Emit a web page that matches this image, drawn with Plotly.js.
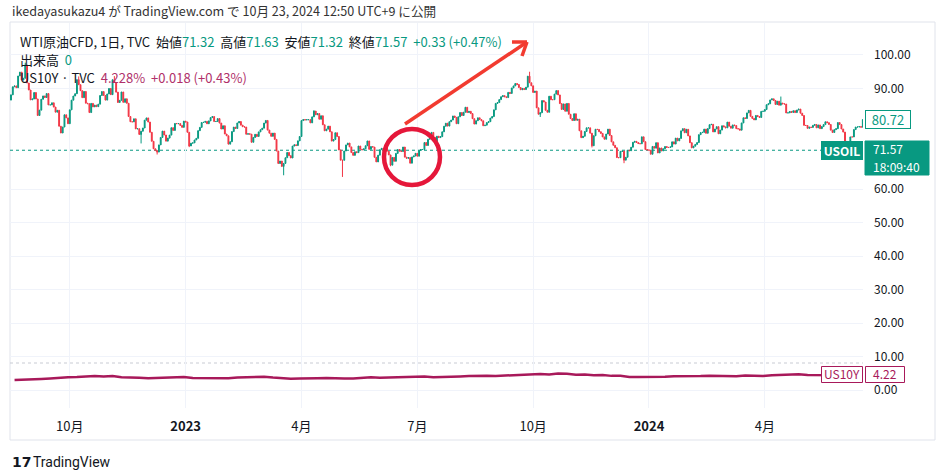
<!DOCTYPE html>
<html><head><meta charset="utf-8">
<script src="https://cdn.plot.ly/plotly-3.0.1.min.js"></script>
<style>html,body{margin:0;padding:0;background:#fff}#chart{width:944px;height:470px}</style>
</head><body><div id="chart"></div>
<script>
// ---- data (daily closes of TVC:USOIL, weekdays from startDate) ----
const startDate = '2022-08-17';
const firstOpen = 86.53;
const closes = [
// 2022 Aug
88.11,90.50,90.77,90.23,93.74,94.89,92.52,93.06,97.01,91.64,89.55,
// Sep
86.61,86.87,88.80,86.88,81.94,83.54,86.79,87.78,87.31,88.48,85.10,85.11,85.73,84.45,82.94,83.49,78.74,76.71,78.50,82.15,81.23,79.49,
// Oct
83.63,86.52,87.76,88.45,92.64,91.13,89.35,87.27,89.11,85.61,85.46,82.82,85.55,84.51,85.05,84.58,85.32,87.91,89.08,87.90,86.53,
// Nov
88.37,90.00,88.17,92.61,91.79,88.91,85.83,86.47,88.96,85.87,86.92,85.59,81.64,80.08,80.04,80.95,77.94,78.00,76.28,77.24,78.20,80.55,
// Dec
81.22,79.98,76.93,74.25,72.01,71.46,71.02,73.17,75.39,77.28,76.11,74.29,75.19,76.09,78.29,77.49,79.56,79.50,79.53,78.96,78.40,80.26,
// 2023 Jan
80.00,76.93,72.84,73.67,73.77,74.63,75.12,77.41,78.39,79.86,79.90,80.18,79.48,80.33,81.31,81.62,80.13,80.15,81.01,79.68,77.90,78.87,
// Feb
76.41,75.88,73.39,74.11,77.14,78.47,78.06,79.72,80.14,79.06,78.59,78.49,76.34,76.50,76.36,73.95,75.39,76.32,75.68,77.05,
// Mar
77.69,78.16,79.68,80.46,77.58,76.66,75.72,76.68,74.80,71.33,67.61,68.35,66.74,67.64,69.33,70.90,69.96,69.26,72.81,73.20,72.97,74.37,75.67,
// Apr
80.42,80.71,80.61,80.70,80.70,79.74,81.53,83.26,82.16,82.52,80.83,81.86,79.16,77.37,77.87,78.76,77.07,74.30,74.76,76.78,
// May
75.66,71.66,68.60,68.56,71.34,73.16,73.71,72.56,70.87,70.04,71.11,70.86,72.83,71.86,71.69,71.99,72.91,74.34,71.83,72.67,72.50,69.46,68.09,
// Jun
70.10,71.74,72.15,71.74,72.53,71.29,70.17,67.12,69.42,68.27,70.62,71.78,71.30,71.19,72.53,69.51,69.16,69.37,67.70,69.56,69.86,70.64,
// Jul
69.79,71.50,71.79,71.80,73.86,72.99,74.83,75.75,76.89,75.42,74.15,75.75,75.35,75.63,77.07,78.74,79.63,78.78,80.09,80.58,81.80,
// Aug
81.37,79.49,81.55,82.82,81.94,82.92,84.40,82.82,83.19,82.51,80.99,79.38,80.39,81.25,80.72,80.35,78.89,79.05,79.83,80.10,81.16,81.63,83.63,
// Sep
85.55,85.80,86.69,87.54,87.87,87.51,87.29,88.84,88.52,90.16,90.77,91.48,91.20,90.28,89.63,90.03,89.68,90.39,93.68,91.71,90.79,
// Oct
88.82,89.23,84.22,82.31,82.79,86.38,85.97,83.49,82.91,87.69,86.66,86.66,88.32,89.37,88.08,85.49,83.74,85.39,83.21,85.54,82.31,81.02,
// Nov
80.44,82.46,80.51,80.82,77.37,75.33,75.74,77.17,78.26,78.26,76.66,72.90,75.89,77.83,77.77,77.10,76.60,75.54,74.86,76.41,77.86,75.96,
// Dec
74.07,73.04,72.32,69.38,69.34,71.23,71.32,68.61,69.47,71.58,71.43,72.47,73.94,74.22,73.89,73.56,73.50,75.57,74.11,71.77,71.65,
// 2024 Jan
71.60,70.38,72.70,72.19,73.81,70.77,72.24,71.37,72.02,72.68,72.40,72.40,72.56,74.08,73.41,75.19,74.37,75.09,77.36,78.01,76.78,77.82,75.85,
// Feb
73.82,72.28,72.78,73.31,73.86,76.22,76.84,76.92,77.87,76.64,78.03,79.19,79.30,77.04,77.91,78.61,76.49,77.58,78.87,78.54,78.26,
// Mar
79.97,78.74,78.15,79.13,78.93,78.01,77.93,77.56,79.72,81.26,81.04,82.72,83.47,81.68,81.07,80.63,81.95,81.62,81.35,83.17,83.20,
// Apr
83.71,85.15,85.43,86.59,86.91,86.43,85.23,86.21,85.02,85.66,85.41,85.36,82.69,82.73,83.14,82.85,83.36,82.81,83.57,83.85,82.63,81.93,
// May
79.00,78.95,78.11,78.48,78.38,78.99,79.26,78.26,79.12,78.02,78.63,79.23,80.06,79.80,79.26,77.57,76.87,77.72,78.00,79.83,79.23,77.91,76.99,
// Jun
74.22,73.25,74.07,75.55,75.53,77.74,78.50,78.50,78.62,78.45,80.72
];
// notable intraday extremes (wicks)
const wickDates = ['2022-08-29','2022-10-10','2022-11-07','2022-11-28','2022-12-09','2023-01-04','2023-03-20','2023-04-12','2023-05-04','2023-06-12','2023-09-28','2023-10-06','2023-11-16','2023-12-12','2024-04-12','2024-06-04'];
const wickHighs = [97.7, 93.6, 93.7, null, null, null, null, 83.5, null, null, 95.0, null, null, null, 87.6, null];
const wickLows  = [null, null, null, 73.6, 70.3, 72.5, 64.1, null, 63.6, 66.8, null, 81.5, 72.4, 67.7, null, 72.5];
// US10Y weekly (Friday) closes, last entry = last visible bar
const us10y = [
2.98,3.04,3.19,3.32,3.45,3.69,3.80,3.88,4.00,4.21,4.01,4.16,3.81,3.83,3.68,3.49,3.58,3.48,3.75,3.87,
3.56,3.50,3.48,3.51,3.53,3.74,3.82,3.95,3.96,3.70,3.43,3.38,3.47,3.39,3.51,3.57,3.44,3.44,3.46,3.67,3.80,
3.69,3.74,3.77,3.74,3.84,4.06,3.83,3.84,3.96,4.04,4.16,4.25,4.24,4.18,4.26,4.33,4.43,4.57,4.78,4.63,4.92,4.84,
4.57,4.65,4.44,4.47,4.22,4.23,3.91,3.90,3.88,
4.05,3.94,4.14,4.14,4.02,4.18,4.28,4.25,4.19,4.08,4.31,4.22,4.20,4.38,4.50,4.62,4.67,4.50,4.50,4.42,4.47,4.50,4.43,4.22,
4.22
];
const tickMonths = ['2022-10','2023-01','2023-04','2023-07','2023-10','2024-01','2024-04'];
const tickLabels = ['10月','<b>2023</b>','4月','7月','10月','<b>2024</b>','4月'];
const yTicks = [0,10,20,30,40,50,60,90,100];
const lastPrice = 71.57;
const countdown = '18:09:40';
const us10yLabel = '4.22';

// ---- build ----
const dates = [];
let d = new Date(startDate + 'T00:00:00Z');
while (dates.length < closes.length) {
  const wd = d.getUTCDay();
  if (wd !== 0 && wd !== 6) dates.push(new Date(d));
  d.setUTCDate(d.getUTCDate() + 1);
}
const dateStr = dates.map(dt => dt.toISOString().slice(0, 10));
const idx = closes.map((_, i) => i);
const opens = closes.map((c, i) => i === 0 ? firstOpen : closes[i - 1]);
const highs = closes.map((c, i) => Math.max(c, opens[i]));
const lows = closes.map((c, i) => Math.min(c, opens[i]));
wickDates.forEach((ds, k) => {
  const i = dateStr.indexOf(ds);
  if (i < 0) return;
  if (wickHighs[k] != null) highs[i] = Math.max(highs[i], wickHighs[k]);
  if (wickLows[k] != null) lows[i] = Math.min(lows[i], wickLows[k]);
});
const tickvals = tickMonths.map(m => dateStr.findIndex(s => s.slice(0, 7) === m));
const fridays = [];
dates.forEach((dt, i) => { if (dt.getUTCDay() === 5) fridays.push(i); });
const usX = fridays.slice(0, us10y.length - 1).concat([closes.length - 1]);

const TEAL = '#089981', RED = '#f23645', PLUM = '#a8195a';
const FONT = 'Noto Sans CJK JP, Noto Sans, sans-serif';
const L = 10, R = 863, T = 23, B = 408;
const px = x => (x - L) / (R - L);
const py = y => (B - y) / (B - T);

const traces = [
  {
    type: 'candlestick', x: idx, open: opens, high: highs, low: lows, close: closes,
    increasing: { line: { color: TEAL, width: 1 }, fillcolor: TEAL },
    decreasing: { line: { color: RED, width: 1 }, fillcolor: RED },
    whiskerwidth: 0, hoverinfo: 'skip', showlegend: false
  },
  {
    type: 'scatter', mode: 'lines', x: usX, y: us10y,
    line: { color: PLUM, width: 2.5 }, hoverinfo: 'skip', showlegend: false
  }
];

const ann = (x, y, text, o) => Object.assign({
  xref: 'paper', yref: 'paper', x: px(x), y: py(y), text, showarrow: false,
  xanchor: 'left', yanchor: 'middle', font: { family: FONT, size: 13, color: '#131722' }
}, o || {});

const lastClose = closes[closes.length - 1];
const annotations = [
  ann(10, 11, 'ikedayasukazu4 が TradingView.com で 10月 23, 2024 12:50 UTC+9 に公開', { font: { family: FONT, size: 12.6, color: '#333333' } }),
  ann(18, 41, 'WTI原油CFD, 1日, TVC  始値<span style="color:#089981">71.32</span>  高値<span style="color:#089981">71.63</span>  安値<span style="color:#089981">71.32</span>  終値<span style="color:#089981">71.57</span>  <span style="color:#089981">+0.33 (+0.47%)</span>'),
  ann(18, 59, '出来高  <span style="color:#089981">0</span>'),
  ann(18, 77, 'US10Y · TVC  <span style="color:#b0306a">4.228%  +0.018 (+0.43%)</span>'),
  // right scale labels
  ann(887.5, 120, lastClose.toFixed(2), { xanchor: 'center', width: 42, height: 15, bgcolor: '#ffffff', bordercolor: TEAL, borderwidth: 1, borderpad: 1, font: { family: FONT, size: 13, color: TEAL } }),
  ann(842, 150, '<b>USOIL</b>', { xanchor: 'center', width: 38, height: 15, bgcolor: TEAL, bordercolor: TEAL, borderwidth: 1, borderpad: 1, font: { family: FONT, size: 12, color: '#ffffff' } }),
  ann(871, 148.5, lastPrice.toFixed(2), { font: { family: FONT, size: 12, color: '#ffffff' } }),
  ann(871, 166.5, countdown, { font: { family: FONT, size: 12, color: '#ffffff' } }),
  ann(842, 373.5, 'US10Y', { xanchor: 'center', font: { family: FONT, size: 12, color: PLUM } }),
  ann(885, 373, us10yLabel, { xanchor: 'center', font: { family: FONT, size: 12, color: PLUM } }),
  // logo
  ann(10, 462, '<b>17</b>', { font: { family: 'DejaVu Sans', size: 14, color: '#131722' } }),
  ann(31, 462, 'TradingView', { font: { family: 'Liberation Sans Narrow, Roboto, sans-serif', size: 14, color: '#131722' } })
];

// arrow (tail -> tip) and circle
const tail = [405, 124], tip = [527, 42];
const shapes = [
  { type: 'rect', xref: 'paper', yref: 'paper', x0: px(10), x1: px(935), y0: py(440), y1: py(22), line: { color: '#e0e3eb', width: 1 }, layer: 'below' },
  { type: 'rect', xref: 'paper', yref: 'paper', x0: px(865), x1: px(929), y0: py(175), y1: py(141), fillcolor: TEAL, line: { color: TEAL, width: 1 } },
  { type: 'rect', xref: 'paper', yref: 'paper', x0: px(821.5), x1: px(862.5), y0: py(382.5), y1: py(366.5), fillcolor: '#ffffff', line: { color: PLUM, width: 1 } },
  { type: 'rect', xref: 'paper', yref: 'paper', x0: px(865.5), x1: px(904.5), y0: py(382.5), y1: py(366.5), fillcolor: '#ffffff', line: { color: PLUM, width: 1 } },
  { type: 'line', xref: 'paper', yref: 'paper', x0: 0, x1: 1, y0: py(363), y1: py(363), line: { color: '#c8cbd3', width: 1, dash: 'dot' }, layer: 'below' },
  { type: 'line', xref: 'paper', yref: 'y', x0: 0, x1: 1, y0: lastPrice, y1: lastPrice, line: { color: TEAL, width: 1, dash: 'dot' }, layer: 'below' },
  { type: 'line', xref: 'paper', yref: 'paper', x0: px(tail[0]), y0: py(tail[1]), x1: px(tip[0]), y1: py(tip[1]), line: { color: '#f23b30', width: 3.5 } },
  { type: 'line', xref: 'paper', yref: 'paper', x0: px(tip[0]), y0: py(tip[1]), x1: px(tip[0] - 15), y1: py(tip[1]), line: { color: '#f23b30', width: 3.5 } },
  { type: 'line', xref: 'paper', yref: 'paper', x0: px(tip[0]), y0: py(tip[1]), x1: px(tip[0] - 5), y1: py(tip[1] + 14), line: { color: '#f23b30', width: 3.5 } },
  { type: 'circle', xref: 'paper', yref: 'paper', x0: px(384), x1: px(440), y0: py(185), y1: py(129), line: { color: '#e5173a', width: 4.5 } }
];

const layout = {
  width: 944, height: 470,
  margin: { l: L, r: 944 - R, t: T, b: 470 - B, pad: 0 },
  paper_bgcolor: '#ffffff', plot_bgcolor: '#ffffff',
  font: { family: FONT, size: 12, color: '#131722' },
  showlegend: false,
  xaxis: {
    range: [-0.56, 478.1], tickvals: tickvals, ticktext: tickLabels,
    showgrid: true, gridcolor: '#f0f3fa', gridwidth: 1, zeroline: false, showline: false,
    ticks: '', ticklabelstandoff: 9, tickfont: { family: FONT, size: 13, color: '#131722' },
    rangeslider: { visible: false }, fixedrange: true
  },
  yaxis: {
    side: 'right', range: [-5.37, 109.55], tickvals: yTicks, tickformat: '.2f',
    showgrid: true, gridcolor: '#f0f3fa', gridwidth: 1, zeroline: false, showline: false,
    ticks: '', ticklabelstandoff: 10, tickfont: { family: FONT, size: 12, color: '#131722' }, fixedrange: true
  },
  annotations: annotations,
  shapes: shapes
};

Plotly.newPlot('chart', traces, layout, { staticPlot: true, displayModeBar: false });
</script>
</body></html>
